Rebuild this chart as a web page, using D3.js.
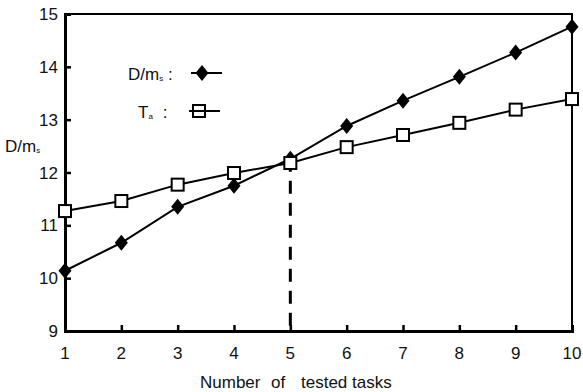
<!DOCTYPE html>
<html>
<head>
<meta charset="utf-8">
<script src="https://cdn.jsdelivr.net/npm/d3@7"></script>
<style>
  body { margin: 0; background: #fff; }
  text { font-family: "Liberation Sans", Arial, sans-serif; fill: #111; }
</style>
</head>
<body>
<div id="chart"></div>
<script>
const tasks = [1, 2, 3, 4, 5, 6, 7, 8, 9, 10];
const dmValues = [10.14, 10.67, 11.35, 11.75, 12.26, 12.88, 13.36, 13.81, 14.27, 14.76];
const taValues = [11.27, 11.46, 11.77, 11.99, 12.18, 12.48, 12.71, 12.94, 13.19, 13.39];
const yTicks = [9, 10, 11, 12, 13, 14, 15];
const crossTask = 5;
const xTitleWords = ["Number", "of", "tested tasks"];

const width = 583, height = 392;
const x0 = 65, x1 = 572, y0 = 331, y1 = 14;

const svg = d3.select("#chart").append("svg")
  .attr("width", width)
  .attr("height", height);

const x = d3.scaleLinear().domain([1, 10]).range([x0, x1]);
const y = d3.scaleLinear().domain([9, 15]).range([y0, y1]);

// frame: top and right thinner
svg.append("rect")
  .attr("x", x0).attr("y", y1)
  .attr("width", x1 - x0).attr("height", y0 - y1)
  .attr("fill", "none").attr("stroke", "#000").attr("stroke-width", 2);

// left axis, ticks pointing inward
const yAxis = svg.append("g")
  .attr("transform", `translate(${x0},0)`)
  .call(d3.axisRight(y).tickValues(yTicks).tickSize(6).tickFormat(""));
yAxis.select(".domain").attr("stroke-width", 3);
yAxis.selectAll(".tick line").attr("stroke-width", 2.5);

svg.append("g").selectAll("text")
  .data(yTicks)
  .join("text")
  .attr("x", x0 - 7)
  .attr("y", d => y(d))
  .attr("dy", "0.36em")
  .attr("text-anchor", "end")
  .attr("font-size", 17)
  .text(d => d);

// bottom axis, ticks pointing up
const xAxis = svg.append("g")
  .attr("transform", `translate(0,${y0})`)
  .call(d3.axisTop(x).tickValues(tasks).tickSize(6).tickFormat(""));
xAxis.select(".domain").attr("stroke-width", 3);
xAxis.selectAll(".tick line").attr("stroke-width", 2.5);

svg.append("g").selectAll("text")
  .data(tasks)
  .join("text")
  .attr("x", d => x(d))
  .attr("y", y0 + 22)
  .attr("dy", "0.36em")
  .attr("text-anchor", "middle")
  .attr("font-size", 17)
  .text(d => d);

// x title, uneven spacing as in the original
const xt = svg.append("text")
  .attr("y", 388)
  .attr("font-size", 17);
xt.append("tspan").attr("x", 200).text(xTitleWords[0]);
xt.append("tspan").attr("x", 271).text(xTitleWords[1]);
xt.append("tspan").attr("x", 301).text(xTitleWords[2]);

// y label
const yl = svg.append("text")
  .attr("x", 5)
  .attr("y", 152)
  .attr("font-size", 17);
yl.append("tspan").text("D/m");
yl.append("tspan").attr("font-size", 8).attr("dy", 1).text("s");

// dashed line at crossing
svg.append("line")
  .attr("x1", x(crossTask)).attr("x2", x(crossTask))
  .attr("y1", y(dmValues[crossTask - 1]))
  .attr("y2", y0)
  .attr("stroke", "#000")
  .attr("stroke-width", 3)
  .attr("stroke-dasharray", "13,9");

const line = d3.line().x((d, i) => x(tasks[i])).y(d => y(d));

svg.append("path")
  .datum(taValues)
  .attr("d", line)
  .attr("fill", "none").attr("stroke", "#000").attr("stroke-width", 2);

svg.append("path")
  .datum(dmValues)
  .attr("d", line)
  .attr("fill", "none").attr("stroke", "#000").attr("stroke-width", 2);

const diamond = "M0,-8L6.5,0L0,8L-6.5,0Z";

svg.append("g").selectAll("path")
  .data(dmValues)
  .join("path")
  .attr("transform", (d, i) => `translate(${x(tasks[i])},${y(d)})`)
  .attr("d", diamond)
  .attr("fill", "#000");

svg.append("g").selectAll("rect")
  .data(taValues)
  .join("rect")
  .attr("x", (d, i) => x(tasks[i]) - 6)
  .attr("y", d => y(d) - 6)
  .attr("width", 12).attr("height", 12)
  .attr("fill", "#fff")
  .attr("stroke", "#000").attr("stroke-width", 2);

// legend
const leg1 = svg.append("text").attr("x", 128).attr("y", 80).attr("font-size", 17);
leg1.append("tspan").text("D/m");
leg1.append("tspan").attr("font-size", 8).attr("dy", 1).text("s");
leg1.append("tspan").attr("dy", -1).text(" :");

svg.append("line")
  .attr("x1", 191).attr("x2", 222).attr("y1", 73).attr("y2", 73)
  .attr("stroke", "#000").attr("stroke-width", 2);
svg.append("path")
  .attr("transform", "translate(202,73)")
  .attr("d", diamond).attr("fill", "#000");

const leg2 = svg.append("text").attr("x", 138).attr("y", 118).attr("font-size", 17);
leg2.append("tspan").text("T");
leg2.append("tspan").attr("font-size", 8).attr("dy", 1).text("a");
leg2.append("tspan").attr("dy", -1).attr("dx", 10).text(":");

svg.append("line")
  .attr("x1", 189).attr("x2", 220).attr("y1", 111).attr("y2", 111)
  .attr("stroke", "#000").attr("stroke-width", 2);
svg.append("rect")
  .attr("x", 193).attr("y", 105).attr("width", 12).attr("height", 12)
  .attr("fill", "none").attr("stroke", "#000").attr("stroke-width", 2);
</script>
</body>
</html>
